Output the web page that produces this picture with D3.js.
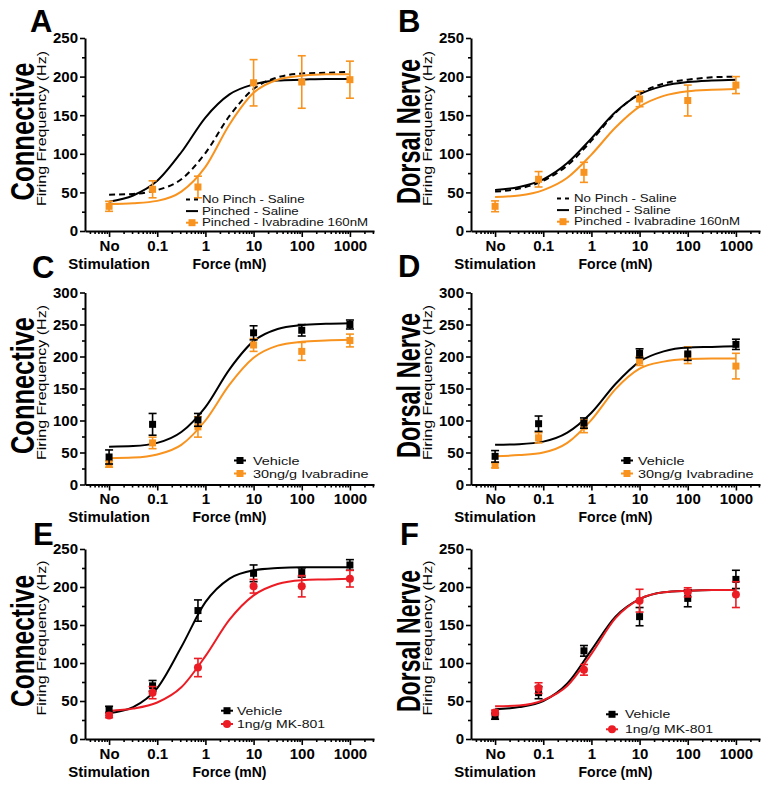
<!DOCTYPE html>
<html><head><meta charset="utf-8">
<script src="https://cdn.jsdelivr.net/npm/d3@7"></script>
<style>body{margin:0;background:#fff} text{font-family:"Liberation Sans",Arial,sans-serif}</style>
</head><body><svg id="c" width="771" height="788"></svg>
<script>
// ---------- data ----------
const forces = [0.01, 0.08, 0.7, 10, 100, 1000];
const xTickValues = [0.01, 0.1, 1, 10, 100, 1000];
const xTickLabels = ["No", "0.1", "1", "10", "100", "1000"];
const fitForces = [0.01, 0.0316, 0.1, 0.316, 1, 3.16, 10, 31.6, 100, 316, 1000];

// Panel A (Connective)
const aNoPinchFit = [47, 48, 53, 67, 101, 149, 184, 199, 204, 205, 206];
const aPinchedFit = [38, 46, 65, 102, 147, 177, 190, 195, 196, 197, 197];
const aIvabradineFit = [35, 36, 39, 51, 83, 138, 179, 196, 201, 203, 203];
const aIvabradineMean = [32, 54, 57, 192, 193, 196];
const aIvabradineErr = [6.5, 11, 14, 30, 34, 24];
// Panel B (Dorsal Nerve)
const bNoPinchFit = [51, 55, 65, 85, 117, 153, 178, 191, 196, 199, 200];
const bPinchedFit = [53, 57, 67, 88, 120, 154, 177, 188, 193, 195, 196];
const bIvabradineFit = [44, 46, 53, 69, 99, 134, 161, 175, 181, 183, 184];
const bIvabradineMean = [32, 67, 76, 171, 169, 189];
const bIvabradineErr = [7, 10, 13, 10, 20, 11];
// Panel C
const cVehicleFit = [59, 60, 65, 82, 121, 180, 224, 243, 249, 251, 252];
const cIvabradineFit = [41, 42, 47, 62, 100, 156, 198, 217, 223, 225, 226];
const cVehicleMean = [43, 94, 101, 237, 241, 250];
const cVehicleErr = [11, 17, 10, 11, 9, 7];
const cIvabradineMean = [32, 65, 90, 218, 208, 225];
const cIvabradineErr = [5, 9, 16, 10, 14, 10];
// Panel D
const dVehicleFit = [62, 63, 67, 81, 112, 157, 192, 208, 214, 215, 216];
const dIvabradineFit = [44, 46, 50, 65, 101, 149, 181, 192, 196, 197, 197];
const dVehicleMean = [44, 95, 96, 205, 204, 219];
const dVehicleErr = [9, 12, 8, 7, 10, 8];
const dIvabradineMean = [30, 73, 91, 193, 202, 185];
const dIvabradineErr = [4, 8, 10, 7, 13, 20];
// Panel E
const eVehicleFit = [34, 42, 67, 121, 180, 211, 222, 225, 226, 226, 226];
const eMK801Fit = [37, 40, 48, 68, 109, 157, 189, 204, 209, 210, 211];
const eVehicleMean = [39, 70, 169, 218, 219, 229];
const eVehicleErr = [4, 7, 14, 11, 6, 7];
const eMK801Mean = [31, 61, 94, 201, 201, 211];
const eMK801Err = [3, 8, 12, 9, 14, 11];
// Panel F
const fVehicleFit = [39, 42, 50, 73, 117, 161, 184, 193, 195, 196, 196];
const fMK801Fit = [43, 44, 51, 70, 112, 159, 184, 193, 195, 196, 196];
const fVehicleMean = [30, 61, 116, 161, 185, 210];
const fVehicleErr = [4, 8, 7, 12, 11, 12];
const fMK801Mean = [35, 67, 91, 182, 193, 190];
const fMK801Err = [3, 7, 7, 15, 6, 17];

const ORANGE = "#F7931E", RED = "#EC1C24", BLACK = "#000";

// ---------- layout ----------
const panels = [
 {letter:"A", lx:30, ly:32, region:"Connective", regionLen:138, x0:85, x1:374, y0:231, yTop:38, yMax:250,
  series:[
   {name:"No Pinch - Saline", color:BLACK, dash:"6,4", fit:aNoPinchFit},
   {name:"Pinched - Saline", color:BLACK, fit:aPinchedFit},
   {name:"Pinched - Ivabradine 160nM", color:ORANGE, fit:aIvabradineFit, mean:aIvabradineMean, err:aIvabradineErr, marker:"square"}],
  leg:{sx:192, tx:202, y:199.5, dy:11.6, fs:10, st:1.33}},
 {letter:"B", lx:398, ly:32, region:"Dorsal Nerve", regionLen:145, x0:471, x1:760, y0:231, yTop:38, yMax:250,
  series:[
   {name:"No Pinch - Saline", color:BLACK, dash:"6,4", fit:bNoPinchFit},
   {name:"Pinched - Saline", color:BLACK, fit:bPinchedFit},
   {name:"Pinched - Ivabradine 160nM", color:ORANGE, fit:bIvabradineFit, mean:bIvabradineMean, err:bIvabradineErr, marker:"square"}],
  leg:{sx:563, tx:574, y:198.5, dy:11.6, fs:10, st:1.33}},
 {letter:"C", lx:32, ly:278, region:"Connective", regionLen:137, x0:85, x1:374, y0:484.5, yTop:292.5, yMax:300,
  series:[
   {name:"30ng/g Ivabradine", color:ORANGE, fit:cIvabradineFit, mean:cIvabradineMean, err:cIvabradineErr, marker:"square", legIdx:1},
   {name:"Vehicle", color:BLACK, fit:cVehicleFit, mean:cVehicleMean, err:cVehicleErr, marker:"square", legIdx:0}],
  leg:{sx:240, tx:253, y:460.5, dy:13, fs:11.2, st:1.29}},
 {letter:"D", lx:398, ly:277, region:"Dorsal Nerve", regionLen:145, x0:471, x1:760, y0:484.5, yTop:292.5, yMax:300,
  series:[
   {name:"30ng/g Ivabradine", color:ORANGE, fit:dIvabradineFit, mean:dIvabradineMean, err:dIvabradineErr, marker:"square", legIdx:1},
   {name:"Vehicle", color:BLACK, fit:dVehicleFit, mean:dVehicleMean, err:dVehicleErr, marker:"square", legIdx:0}],
  leg:{sx:627, tx:638, y:460.5, dy:13, fs:11.2, st:1.29}},
 {letter:"E", lx:33, ly:545, region:"Connective", regionLen:132, x0:85, x1:374, y0:739, yTop:549, yMax:250,
  series:[
   {name:"Vehicle", color:BLACK, fit:eVehicleFit, mean:eVehicleMean, err:eVehicleErr, marker:"square", legIdx:0},
   {name:"1ng/g MK-801", color:RED, fit:eMK801Fit, mean:eMK801Mean, err:eMK801Err, marker:"circle", legIdx:1}],
  leg:{sx:227, tx:237, y:710.7, dy:13.3, fs:11.5, st:1.22}},
 {letter:"F", lx:400, ly:545, region:"Dorsal Nerve", regionLen:142, x0:471, x1:760, y0:739, yTop:549, yMax:250,
  series:[
   {name:"Vehicle", color:BLACK, fit:fVehicleFit, mean:fVehicleMean, err:fVehicleErr, marker:"square", legIdx:0},
   {name:"1ng/g MK-801", color:RED, fit:fMK801Fit, mean:fMK801Mean, err:fMK801Err, marker:"circle", legIdx:1}],
  leg:{sx:612, tx:625, y:714.3, dy:15, fs:11.5, st:1.22}}
];

const svg = d3.select("#c");

function drawMarker(g, type, cx, cy, color, size){
  if(type==="square"){
    g.append("rect").attr("x",cx-size/2).attr("y",cy-size/2).attr("width",size).attr("height",size).attr("fill",color);
  } else if(type==="circle"){
    g.append("circle").attr("cx",cx).attr("cy",cy).attr("r",size/2+0.5).attr("fill",color);
  }
}

panels.forEach(p=>{
  const g = svg.append("g");
  const x = d3.scaleLog().domain([Math.pow(10,-2.5), Math.pow(10,3.5)]).range([p.x0, p.x1]);
  const y = d3.scaleLinear().domain([0, p.yMax]).range([p.y0, p.yTop]);

  // panel letter
  g.append("text").attr("x",p.lx).attr("y",p.ly).attr("font-size",31).attr("font-weight","bold").text(p.letter);

  // y axis
  const yMajor = d3.range(0, p.yMax+1, 50);
  const yMinor = d3.range(25, p.yMax, 50);
  g.append("g").attr("transform",`translate(${p.x0},0)`)
    .call(d3.axisLeft(y).tickValues(yMajor).tickSize(5).tickSizeOuter(0).tickPadding(2).tickFormat(d3.format("d")));
  g.append("g").attr("transform",`translate(${p.x0},0)`)
    .call(d3.axisLeft(y).tickValues(yMinor).tickSize(3).tickSizeOuter(0).tickFormat(""))
    .call(a=>a.select(".domain").remove());
  // x axis
  g.append("g").attr("transform",`translate(0,${p.y0})`)
    .call(d3.axisBottom(x).tickValues(xTickValues).tickSize(6).tickSizeOuter(0).tickPadding(3)
      .tickFormat((d,i)=>xTickLabels[i]));
  const minor = x.ticks().filter(v=>!xTickValues.some(t=>Math.abs(t-v)/t<1e-6));
  g.append("g").attr("transform",`translate(0,${p.y0})`)
    .call(d3.axisBottom(x).tickValues(minor).tickSize(3).tickSizeOuter(0).tickFormat(""))
    .call(a=>a.select(".domain").remove());
  g.selectAll(".domain").attr("stroke","#000").attr("stroke-width",2);
  g.selectAll(".tick line").attr("stroke","#000").attr("stroke-width",1.6);
  g.selectAll(".tick text").attr("font-family",'"Liberation Sans",Arial,sans-serif')
    .attr("font-size",15).attr("font-weight","bold").attr("fill","#000");

  // second line of "No Stimulation" and axis titles
  g.append("text").attr("x",x(xTickValues[0])).attr("y",p.y0+37.5).attr("text-anchor","middle")
    .attr("font-size",15).attr("font-weight","bold").text("Stimulation");
  g.append("text").attr("x",(p.x0+p.x1)/2).attr("y",p.y0+37.5).attr("text-anchor","middle")
    .attr("font-size",14).attr("font-weight","bold").text("Force (mN)");

  const cy = (p.y0+p.yTop)/2;
  g.append("text").attr("transform",`translate(${p.x0-51},${cy-3}) rotate(-90)`).attr("text-anchor","middle")
    .attr("font-size",33).attr("font-weight","bold").attr("textLength",p.regionLen).attr("lengthAdjust","spacingAndGlyphs")
    .text(p.region);
  g.append("text").attr("transform",`translate(${p.x0-39},${cy-6}) rotate(-90)`).attr("text-anchor","middle")
    .attr("font-size",13).attr("textLength",155).attr("lengthAdjust","spacingAndGlyphs")
    .text("Firing Frequency (Hz)");

  // curves
  const line = d3.line().x((d,i)=>x(fitForces[i])).y(d=>y(d)).curve(d3.curveMonotoneX);
  p.series.forEach(s=>{
    g.append("path").attr("d",line(s.fit)).attr("fill","none").attr("stroke",s.color)
      .attr("stroke-width",2).attr("stroke-dasharray",s.dash||null);
  });
  // points & error bars
  p.series.forEach(s=>{
    if(!s.mean) return;
    s.mean.forEach((m,i)=>{
      const px = x(forces[i]);
      const lo = y(m - s.err[i]), hi = y(m + s.err[i]);
      g.append("line").attr("x1",px).attr("x2",px).attr("y1",lo).attr("y2",hi).attr("stroke",s.color).attr("stroke-width",1.6);
      [lo,hi].forEach(yy=>g.append("line").attr("x1",px-4).attr("x2",px+4).attr("y1",yy).attr("y2",yy).attr("stroke",s.color).attr("stroke-width",1.6));
      drawMarker(g, s.marker, px, y(m), s.color, 7);
    });
  });

  // legend
  p.series.forEach((s,k)=>{
    const idx = s.legIdx!==undefined ? s.legIdx : k;
    const ry = p.leg.y + idx*p.leg.dy;
    g.append("line").attr("x1",p.leg.sx-6).attr("x2",p.leg.sx+6).attr("y1",ry).attr("y2",ry)
      .attr("stroke",s.color).attr("stroke-width",2).attr("stroke-dasharray",s.dash?"4,4":null);
    if(s.marker) drawMarker(g, s.marker, p.leg.sx, ry, s.color, 7);
    g.append("text").attr("transform",`translate(${p.leg.tx},${ry+p.leg.fs*0.36}) scale(${p.leg.st},1)`)
      .attr("font-size",p.leg.fs).attr("fill","#111").text(s.name);
  });
});
</script></body></html>
